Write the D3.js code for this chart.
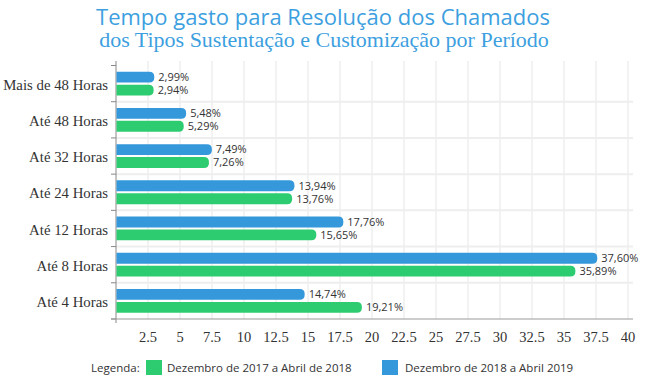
<!DOCTYPE html>
<html>
<head>
<meta charset="utf-8">
<script src="https://cdnjs.cloudflare.com/ajax/libs/d3/7.8.5/d3.min.js"></script>
<style>
  body { margin: 0; background: #fff; }
  svg { display: block; }
</style>
</head>
<body>
<script>
// chart data
const categories = ["Mais de 48 Horas", "Até 48 Horas", "Até 32 Horas", "Até 24 Horas", "Até 12 Horas", "Até 8 Horas", "Até 4 Horas"];
const period2019 = [2.99, 5.48, 7.49, 13.94, 17.76, 37.60, 14.74];
const period2018 = [2.94, 5.29, 7.26, 13.76, 15.65, 35.89, 19.21];
const seriesNames = ["Dezembro de 2017 a Abril de 2018", "Dezembro de 2018 a Abril 2019"];
const xTicks = [2.5, 5, 7.5, 10, 12.5, 15, 17.5, 20, 22.5, 25, 27.5, 30, 32.5, 35, 37.5, 40];

const w = 647, h = 383;
const blue = "#3498db", green = "#2ecc71", titleColor = "#3d9fe0";
const plotLeft = 116, plotRight = 628, plotTop = 65.5, plotBottom = 319;

const svg = d3.select("body").append("svg").attr("width", w).attr("height", h);

// title
svg.append("text").attr("x", 323).attr("y", 25).attr("text-anchor", "middle")
  .style("font-family", "'Open Sans'").style("font-size", "22px").attr("fill", titleColor)
  .text("Tempo gasto para Resolução dos Chamados");
svg.append("text").attr("x", 324).attr("y", 47).attr("text-anchor", "middle")
  .style("font-family", "'Liberation Serif'").style("font-size", "22px").attr("fill", titleColor)
  .text("dos Tipos Sustentação e Customização por Período");

// scales
const x = d3.scaleLinear().domain([0, 40]).range([plotLeft, plotRight]);
const y = d3.scaleBand().domain(categories).range([plotTop, plotBottom]);
const bw = y.bandwidth();
const ySub = d3.scaleBand().domain(["b", "g"]).range([6.2, bw - 6.2]).paddingInner(0.16);

// vertical grid lines
svg.append("g").selectAll("line").data(xTicks).join("line")
  .attr("x1", d => x(d)).attr("x2", d => x(d))
  .attr("y1", 61).attr("y2", plotBottom)
  .attr("stroke", "#e6e6e6").attr("stroke-width", 1);

// horizontal grid lines between categories
svg.append("g").selectAll("line").data(categories.slice(1)).join("line")
  .attr("x1", plotLeft).attr("x2", x(40) + 5)
  .attr("y1", d => y(d)).attr("y2", d => y(d))
  .attr("stroke", "#eeeeee").attr("stroke-width", 2);

// y axis ticks at band edges
const edges = categories.map(d => y(d)).concat([plotBottom]);
svg.append("g").selectAll("line").data(edges).join("line")
  .attr("x1", plotLeft - 5).attr("x2", plotLeft)
  .attr("y1", d => d).attr("y2", d => d)
  .attr("stroke", "#888");

// axis lines
svg.append("line").attr("x1", plotLeft).attr("x2", plotLeft).attr("y1", 61).attr("y2", plotBottom + 4)
  .attr("stroke", "#888");
svg.append("line").attr("x1", plotLeft - 5).attr("x2", x(40) + 5).attr("y1", plotBottom).attr("y2", plotBottom)
  .attr("stroke", "#999");

// y labels
svg.append("g").selectAll("text").data(categories).join("text")
  .attr("x", plotLeft - 8).attr("y", d => y(d) + bw / 2 + 1).attr("dy", "0.35em")
  .attr("text-anchor", "end")
  .style("font-family", "'Liberation Serif'").style("font-size", "14.8px").attr("fill", "#333")
  .text(d => d);

// x tick labels
svg.append("g").selectAll("text").data(xTicks).join("text")
  .attr("x", d => x(d)).attr("y", plotBottom + 23)
  .attr("text-anchor", "middle")
  .style("font-family", "'Liberation Serif'").style("font-size", "14.5px").attr("fill", "#333")
  .text(d => d);

// bar with rounded right end
function barPath(x0, x1, y0, bh) {
  const r = Math.min(5, (x1 - x0) / 2);
  return `M${x0},${y0}H${x1 - r}Q${x1},${y0} ${x1},${y0 + r}V${y0 + bh - r}Q${x1},${y0 + bh} ${x1 - r},${y0 + bh}H${x0}Z`;
}
const fmt = v => d3.format(".2f")(v).replace(".", ",") + "%";

const rows = categories.map((c, i) => ({ c, b: period2019[i], g: period2018[i] }));
const groups = svg.append("g").selectAll("g").data(rows).join("g")
  .attr("transform", d => `translate(0,${y(d.c)})`);

[["b", blue], ["g", green]].forEach(([key, color]) => {
  groups.append("path")
    .attr("d", d => barPath(plotLeft + 0.5, x(d[key]), ySub(key), ySub.bandwidth()))
    .attr("fill", color);
  groups.append("text")
    .attr("x", d => x(d[key]) + 4).attr("y", ySub(key) + ySub.bandwidth() / 2).attr("dy", "0.35em")
    .style("font-family", "'Open Sans'").style("font-size", "11px").attr("fill", "#333")
    .text(d => fmt(d[key]));
});

// legend
const leg = svg.append("g").style("font-family", "'Open Sans'").style("font-size", "11.5px");
leg.append("text").attr("x", 91).attr("y", 368).attr("dy", "0.35em").attr("fill", "#333").text("Legenda:");
leg.append("rect").attr("x", 146).attr("y", 360).attr("width", 16).attr("height", 15).attr("fill", green);
leg.append("text").attr("x", 167).attr("y", 368).attr("dy", "0.35em").attr("fill", "#333").text(seriesNames[0]);
leg.append("rect").attr("x", 382).attr("y", 360).attr("width", 16).attr("height", 15).attr("fill", blue);
leg.append("text").attr("x", 405).attr("y", 368).attr("dy", "0.35em").attr("fill", "#333").text(seriesNames[1]);
</script>
</body>
</html>
